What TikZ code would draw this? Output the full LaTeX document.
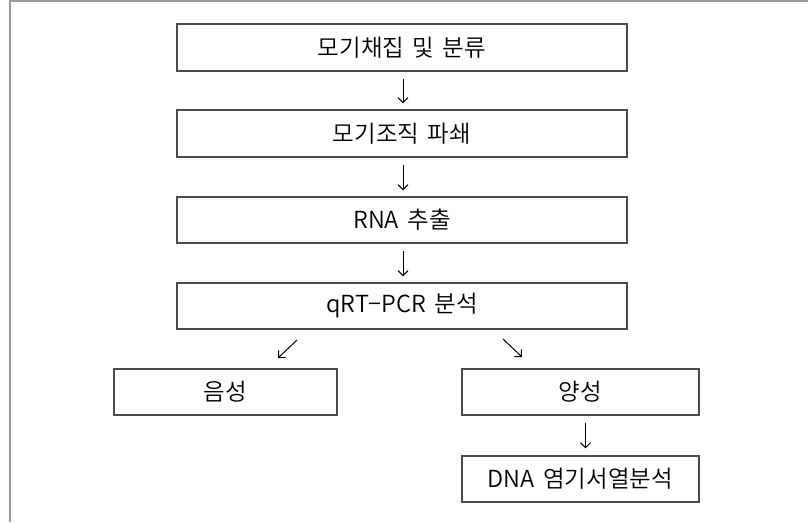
\documentclass[tikz,border=0pt]{standalone}
\usepackage{fontspec}
\setmainfont{Noto Sans CJK KR}[UprightFont=* DemiLight,WordSpace=1.6]
\usetikzlibrary{arrows.meta,calc}
\begin{document}
\begin{tikzpicture}[x=1pt,y=-1pt,
  stepbox/.style={draw=black!70,line width=1.2pt,rectangle,inner sep=0pt,font=\fontsize{23.5}{26}\selectfont,text=black},
  arr/.style={line width=1pt,-{Straight Barb[length=5pt,width=10pt]}},
  frame/.style={draw=black!40,line width=2pt}]
\useasboundingbox (0,0) rectangle (808,522);
\fill[white] (0,0) rectangle (808,522);
\draw[frame] (9.5,522) -- (9.5,1) -- (808,1);
\node[stepbox,minimum width=450pt,minimum height=47pt] (b1) at (402,47.5) {모기채집 및 분류};
\node[stepbox,minimum width=450pt,minimum height=47pt] (b2) at (402,133.5) {모기조직 파쇄};
\node[stepbox,minimum width=450pt,minimum height=46pt] (b3) at (402,220) {RNA 추출};
\node[stepbox,minimum width=450pt,minimum height=46pt] (b4) at (402,306) {qRT−PCR 분석};
\node[stepbox,minimum width=223pt,minimum height=46pt] (neg) at (225.5,392) {음성};
\node[stepbox,minimum width=237pt,minimum height=46pt] (pos) at (580.5,392) {양성};
\node[stepbox,minimum width=237pt,minimum height=46pt] (dna) at (580.5,479) {DNA 염기서열분석};
\draw[arr] ([xshift=1pt,yshift=-7pt]b1.south) -- ([xshift=1pt,yshift=6pt]b2.north);
\draw[arr] ([xshift=1pt,yshift=-7pt]b2.south) -- ([xshift=1pt,yshift=6pt]b3.north);
\draw[arr] ([xshift=1pt,yshift=-7pt]b3.south) -- ([xshift=1pt,yshift=6pt]b4.north);
\draw[arr] ([xshift=5pt,yshift=-7pt]pos.south) -- ([xshift=5pt,yshift=7pt]dna.north);
\coordinate (l1) at (297,340);
\coordinate (l2) at (278,358);
\coordinate (r1) at (503,339);
\coordinate (r2) at (522,357);
\draw[arr] (l1) -- (l2);
\draw[arr] (r1) -- (r2);
\end{tikzpicture}
\end{document}
